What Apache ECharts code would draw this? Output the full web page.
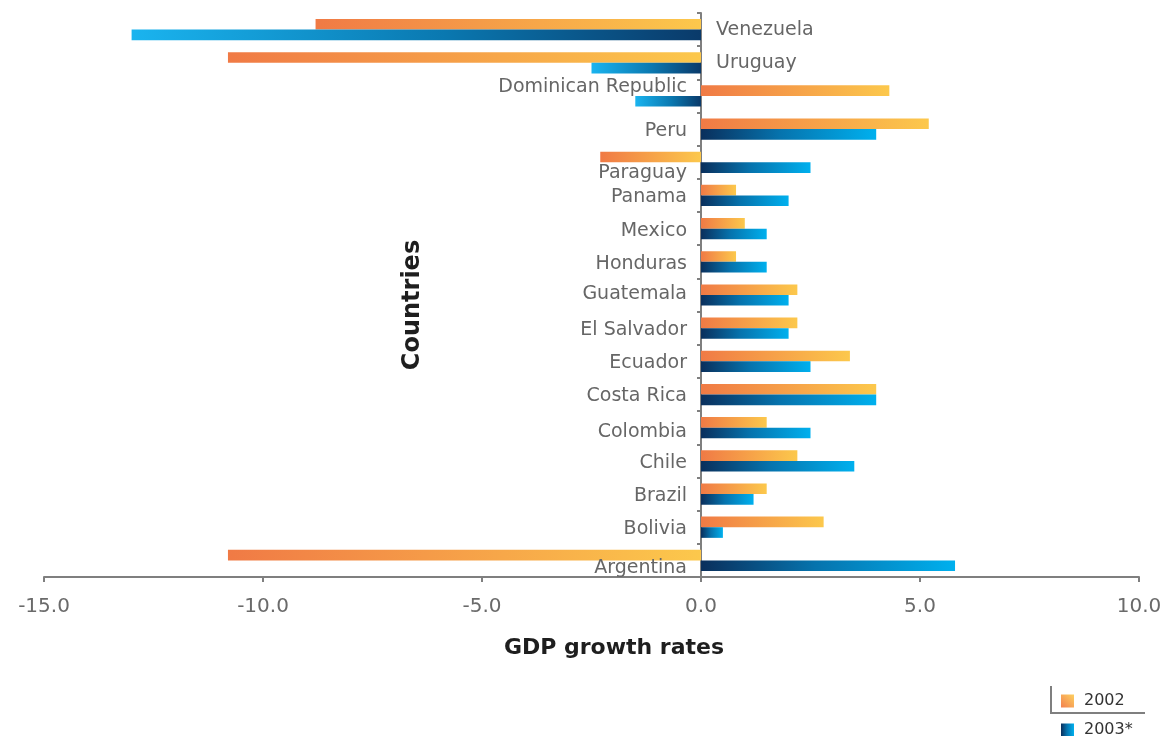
<!DOCTYPE html>
<html>
<head>
<meta charset="utf-8">
<script src="https://cdn.jsdelivr.net/npm/echarts@6/dist/echarts.min.js"></script>
<style>
html,body{margin:0;padding:0;background:#fff;}
#chart{width:1164px;height:736px;}
</style>
</head>
<body>
<div id="chart"></div>
<script>
// Categories listed bottom to top
const categories = ['Argentina','Bolivia','Brazil','Chile','Colombia','Costa Rica','Ecuador','El Salvador','Guatemala','Honduras','Mexico','Panama','Paraguay','Peru','Dominican Republic','Uruguay','Venezuela'];
const values2002 = [-10.8, 2.8, 1.5, 2.2, 1.5, 4.0, 3.4, 2.2, 2.2, 0.8, 1.0, 0.8, -2.3, 5.2, 4.3, -10.8, -8.8];
const values2003 = [5.8, 0.5, 1.2, 3.5, 2.5, 4.0, 2.5, 2.0, 2.0, 1.5, 1.5, 2.0, 2.5, 4.0, -1.5, -2.5, -13.0];
const seriesNames = ['2002', '2003*'];
const rightSideLabels = ['Venezuela', 'Uruguay'];
const labelShift = {'Venezuela': -2, 'Uruguay': -2, 'Dominican Republic': -11, 'Paraguay': 9, 'Argentina': 6, 'Guatemala': -3, 'Colombia': 2};

const FONT = 'DejaVu Sans';
const G = echarts.graphic.LinearGradient;
const grad2002 = new G(0, 0, 1, 0, [{offset: 0, color: '#f07a45'}, {offset: 1, color: '#fcc84c'}]);
const grad2002Legend = new G(0, 1, 1, 0, [{offset: 0, color: '#f2804f'}, {offset: 1, color: '#fdd060'}]);
const grad2003 = new G(0, 0, 1, 0, [{offset: 0, color: '#0a2f5c'}, {offset: 0.45, color: '#0673ad'}, {offset: 1, color: '#00b0ee'}]);
const grad2003Neg = new G(0, 0, 1, 0, [{offset: 0, color: '#1ab4ef'}, {offset: 0.55, color: '#0a78b0'}, {offset: 1, color: '#0a3a6a'}]);

const labelData = categories.map(c => {
  const right = rightSideLabels.indexOf(c) >= 0;
  return {
    name: c,
    value: [0, c],
    label: {
      position: right ? 'right' : 'left',
      distance: right ? 15 : 14,
      offset: [0, (labelShift[c] || 0) + 2]
    }
  };
});

const legendText = {fontFamily: FONT, fontSize: 16, color: '#333', padding: [0, 0, 0, 5]};

const chart = echarts.init(document.getElementById('chart'));
chart.setOption({
  animation: false,
  backgroundColor: '#fff',
  grid: {left: 44, right: 25, top: 13, bottom: 159, containLabel: false, outerBoundsMode: 'none'},
  legend: [
    {
      left: 1061, top: 693, padding: 0,
      itemWidth: 13, itemHeight: 13, itemGap: 10,
      textStyle: legendText,
      data: [{name: seriesNames[0], icon: 'rect', itemStyle: {color: grad2002Legend}}]
    },
    {
      left: 1061, top: 722, padding: 0,
      itemWidth: 13, itemHeight: 13, itemGap: 10,
      textStyle: legendText,
      data: [{name: seriesNames[1], icon: 'rect'}]
    }
  ],
  xAxis: {
    type: 'value', min: -15, max: 10, interval: 5,
    axisLine: {show: true, lineStyle: {color: '#7f7f7f', width: 2}},
    axisTick: {show: true, length: 5, lineStyle: {color: '#7f7f7f', width: 2}},
    splitLine: {show: false},
    axisLabel: {fontFamily: FONT, fontSize: 20, color: '#6a6a6a', margin: 20, formatter: v => v.toFixed(1)}
  },
  yAxis: {
    type: 'category', data: categories,
    axisLine: {show: true, onZero: true, lineStyle: {color: '#7f7f7f', width: 2}},
    axisTick: {show: true, length: 4, lineStyle: {color: '#7f7f7f', width: 2}},
    axisLabel: {show: false}
  },
  graphic: [
    {type: 'text', x: 614, y: 648, style: {text: 'GDP growth rates', fontFamily: FONT, fontSize: 22, fontWeight: 'bold', fill: '#1e1e1e', align: 'center', verticalAlign: 'middle'}},
    {type: 'text', x: 413, y: 305, rotation: Math.PI / 2, style: {text: 'Countries', fontFamily: FONT, fontSize: 24, fontWeight: 'bold', fill: '#1e1e1e', align: 'center', verticalAlign: 'middle'}},
    {type: 'polyline', shape: {points: [[1051, 686], [1051, 713], [1145, 713]]}, style: {stroke: '#7f7f7f', lineWidth: 2, fill: null}}
  ],
  series: [
    {
      name: seriesNames[0], type: 'bar',
      barGap: '0%', barCategoryGap: '36%',
      itemStyle: {color: grad2002},
      data: values2002
    },
    {
      name: seriesNames[1], type: 'bar',
      barGap: '0%', barCategoryGap: '36%',
      itemStyle: {color: grad2003},
      data: values2003.map(v => v < 0 ? {value: v, itemStyle: {color: grad2003Neg}} : v)
    },
    {
      name: 'labels', type: 'scatter', symbolSize: 0, silent: true, z: 5,
      label: {show: true, formatter: p => p.name, fontFamily: FONT, fontSize: 19, color: '#666666', textBorderWidth: 0, opacity: 1},
      data: labelData
    }
  ]
});
</script>
</body>
</html>
